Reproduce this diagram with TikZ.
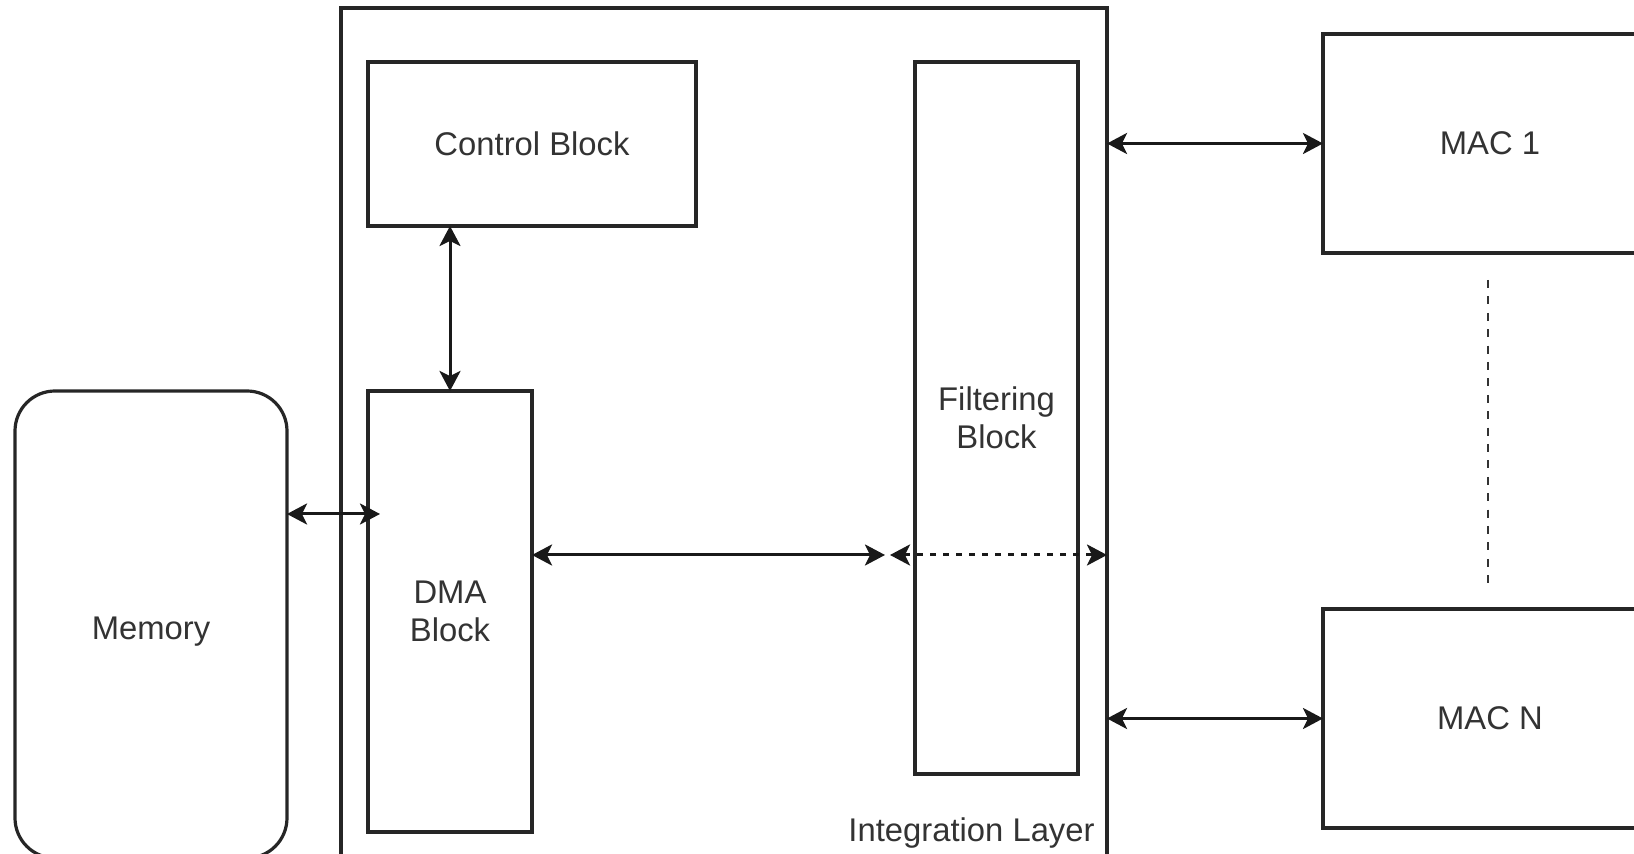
\documentclass[tikz,border=0pt]{standalone}
\usepackage{fontspec}
\setmainfont{Liberation Sans}
\usetikzlibrary{arrows.meta,calc}
\definecolor{txtgray}{HTML}{333333}
\begin{document}
\begin{tikzpicture}[x=0.5pt,y=-0.5pt,
  box/.style={draw=black!85, line width=1.6pt, inner sep=0pt, outer sep=0pt,
    text=txtgray, align=center,
    font=\fontsize{16.4}{18.8}\selectfont},
  lbl/.style={text=txtgray, inner sep=0pt, font=\fontsize{16.4}{18.8}\selectfont},
  biarr/.style={line width=1.5pt, draw=black!90,
    {Stealth[length=10pt,width=10.5pt,inset=2.5pt]}-{Stealth[length=10pt,width=10.5pt,inset=2.5pt]}},
  dashline/.style={line width=1.4pt, draw=black!80, dash pattern=on 4pt off 4.2pt}
]
\useasboundingbox (0,0) rectangle (1634,854);
\begin{scope}
\clip (0,0) rectangle (1634,854);
% boxes
\node[box, minimum width=383pt, minimum height=431pt] (integ) at (724,439) {};
\node[box, minimum width=164pt, minimum height=82pt] (ctrl) at (532,144) {Control Block};
\node[box, minimum width=82pt, minimum height=220.5pt] (dma) at (450,611.5) {DMA\\Block};
\node[box, rounded corners=20pt, minimum width=136pt, minimum height=233.5pt, text depth=0pt] (mem) at (151,624.5) {\raisebox{-4pt}{Memory}};
\node[box, minimum width=81.5pt, minimum height=356pt] (filt) at (996.5,418) {Filtering\\Block};
\node[box, minimum width=167pt, minimum height=109.5pt] (mac1) at (1490,143.5) {MAC 1};
\node[box, minimum width=167pt, minimum height=109.5pt] (macn) at (1490,718.5) {MAC N};
\node[lbl, anchor=east] (intlbl) at (1095,833) {Integration Layer};
% connectors
\coordinate (dmaIn) at (380,514);
\draw[biarr] (mem.east |- dmaIn) -- (dmaIn);
\draw[biarr] (dma.north |- ctrl.south) -- (dma.north);
\coordinate (fIn) at (885,555);
\draw[biarr] (dma.east |- fIn) -- (fIn);
\coordinate (fOut) at (890,555);
\draw[biarr, dash pattern=on 3pt off 3.5pt] (fOut) -- (integ.east |- fOut);
\draw[biarr] (integ.east |- mac1.west) -- (mac1.west);
\draw[biarr] (integ.east |- macn.west) -- (macn.west);
\draw[dashline, shorten <=13.5pt, shorten >=13pt] ([xshift=-1pt]mac1.south) -- ([xshift=-1pt]macn.north);
\end{scope}
\end{tikzpicture}
\end{document}
